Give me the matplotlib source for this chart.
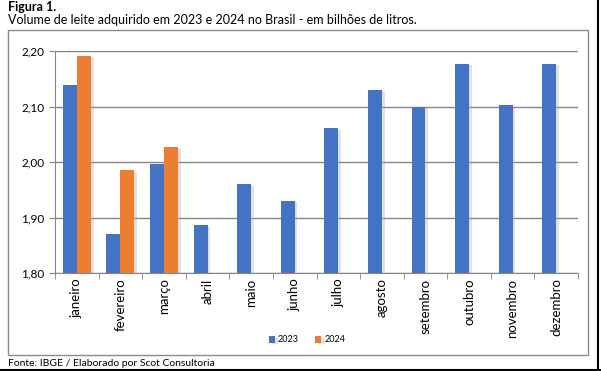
import matplotlib.pyplot as plt
import numpy as np
from matplotlib import patheffects as pe
from matplotlib.patches import Rectangle

plt.rcParams['font.family'] = ['Lato', 'DejaVu Sans']

months = ['janeiro', 'fevereiro', 'março', 'abril', 'maio', 'junho', 'julho',
          'agosto', 'setembro', 'outubro', 'novembro', 'dezembro']
vol_2023 = [2.139, 1.870, 1.996, 1.886, 1.960, 1.930, 2.061,
            2.130, 2.100, 2.177, 2.103, 2.177]
vol_2024 = [2.191, 1.986, 2.027]
yticks = [1.80, 1.90, 2.00, 2.10, 2.20]

blue = '#4472C4'
orange = '#ED7D31'

fig = plt.figure(figsize=(6.01, 3.71), dpi=100)
ax = fig.add_axes([55 / 601, 1 - 273 / 371, 523 / 601, 222 / 371])

x = np.arange(len(months))
w = 0.32
shadow = [pe.SimplePatchShadow(offset=(2, -1), shadow_rgbFace='#aaaaaa', alpha=0.35), pe.Normal()]
b1 = ax.bar(x - w / 2, vol_2023, w, color=blue, label='2023', zorder=3)
b2 = ax.bar(np.arange(len(vol_2024)) + w / 2, vol_2024, w, color=orange, label='2024', zorder=3)
for b in list(b1) + list(b2):
    b.set_path_effects(shadow)

ax.set_ylim(1.80, 2.20)
ax.set_xlim(-0.5, len(months) - 0.5)
ax.set_yticks(yticks)
ax.set_yticklabels([f'{v:.2f}'.replace('.', ',') for v in yticks], fontsize=8.5)
ax.set_xticks(x)
ax.set_xticklabels(months, rotation=90, fontsize=9.5)
ax.set_xticks(np.arange(-0.5, len(months)), minor=True)
ax.tick_params(axis='x', which='major', length=0, pad=4)
ax.tick_params(axis='x', which='minor', length=4, color='#868686')
ax.tick_params(axis='y', length=4, color='#868686')
ax.grid(axis='y', color='#868686', linewidth=1, zorder=0)
for s in ['top', 'right']:
    ax.spines[s].set_visible(False)
ax.spines['left'].set_color('#868686')
ax.spines['bottom'].set_color('#868686')

ax.legend(loc='center', bbox_to_anchor=(307 / 601, 1 - 340 / 371), bbox_transform=fig.transFigure,
          ncol=2, frameon=False, fontsize=6.5, handlelength=0.7, handleheight=0.7,
          handletextpad=0.3, columnspacing=1.8)

# chart frame and page border
fig.add_artist(Rectangle((8 / 601, 1 - 355 / 371), 580 / 601, 325 / 371,
                         transform=fig.transFigure, fill=False, edgecolor='#8c8c8c', linewidth=1))
fig.add_artist(plt.Line2D([598 / 601, 598 / 601], [0, 1], transform=fig.transFigure, color='black', linewidth=1.5))
fig.add_artist(plt.Line2D([0, 1], [1.5 / 371, 1.5 / 371], transform=fig.transFigure, color='black', linewidth=1.5))

fig.text(8 / 601, 1 - 7 / 371, 'Figura 1.', fontsize=9, fontweight='bold', va='center')
fig.text(8 / 601, 1 - 20 / 371, 'Volume de leite adquirido em 2023 e 2024 no Brasil - em bilhões de litros.',
         fontsize=9, va='center')
fig.text(8 / 601, 1 - 364 / 371, 'Fonte: IBGE / Elaborado por Scot Consultoria', fontsize=7.5, va='center')

fig.savefig('out.png', dpi=100)
